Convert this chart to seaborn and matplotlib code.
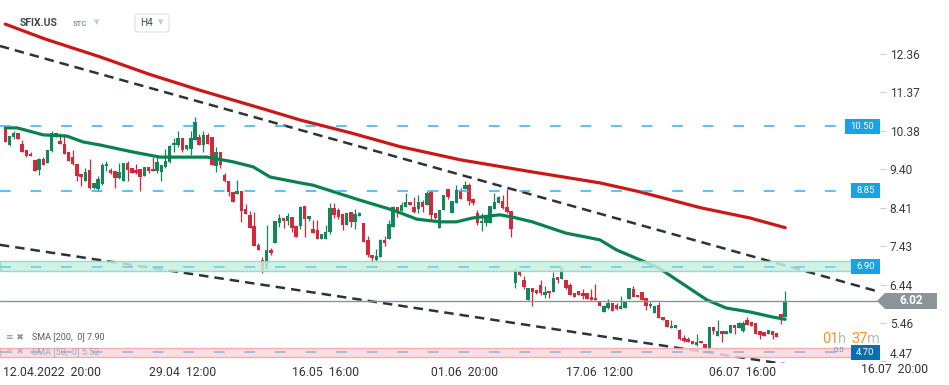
import numpy as np
import pandas as pd
import matplotlib
matplotlib.use("Agg")
import matplotlib.pyplot as plt
import seaborn as sns
from matplotlib.patches import Polygon, Rectangle, FancyBboxPatch
from matplotlib.transforms import blended_transform_factory

# ---------------- data ----------------
opens = [10.50, 10.03, 10.22, 10.33, 10.05, 9.88, 9.79, 9.64, 9.37, 9.66,
         9.56, 9.86, 10.33, 10.13, 10.05, 9.83, 9.71, 9.53, 9.28, 9.09,
         9.38, 8.92, 8.88, 9.03, 9.47, 9.38, 9.35, 9.18, 9.09, 9.56,
         9.43, 9.39, 9.41, 9.22, 9.45, 9.41, 9.35, 9.32, 9.45, 9.59,
         10.01, 10.01, 10.20, 9.93, 9.93, 10.16, 10.23, 10.03, 10.27, 10.22,
         9.47, 9.84, 9.26, 9.09, 8.81, 8.77, 8.83, 8.38, 8.23, 7.94,
         7.46, 7.08, 6.83, 7.33, 7.52, 8.03, 8.14, 8.08, 8.18, 7.94,
         7.95, 8.46, 8.12, 7.87, 7.84, 7.60, 7.60, 7.78, 8.40, 8.36,
         8.24, 7.97, 8.30, 8.05, 8.21, 8.01, 7.59, 7.20, 7.07, 7.16,
         7.59, 7.61, 7.93, 8.44, 8.34, 8.42, 8.57, 8.42, 8.37, 8.55,
         8.47, 8.81, 8.27, 7.90, 8.36, 8.88, 8.27, 8.53, 8.85, 8.89,
         8.99, 8.64, 8.27, 8.01, 8.03, 8.03, 8.37, 8.53, 8.59, 8.42,
         8.34, 6.49, 6.79, 6.56, 6.05, 6.35, 6.30, 6.43, 6.17, 6.28,
         6.26, 6.63, 6.58, 6.56, 6.43, 6.22, 6.28, 6.22, 6.22, 6.12,
         6.09, 6.02, 5.75, 5.84, 5.96, 5.92, 5.81, 5.83, 6.07, 6.33,
         6.18, 6.24, 6.09, 5.88, 5.71, 5.92, 5.60, 5.52, 5.32, 5.34,
         5.28, 5.07, 5.04, 5.00, 4.89, 5.00, 4.91, 4.78, 5.35, 5.13,
         5.26, 5.17, 5.19, 5.41, 5.34, 5.24, 5.52, 5.47, 5.45, 5.24,
         5.22, 5.17, 5.26, 5.21, 5.68, 5.60]
highs = [10.50, 10.26, 10.39, 10.33, 10.15, 9.88, 9.84, 9.64, 9.69, 9.70,
         9.88, 10.37, 10.33, 10.33, 10.30, 9.83, 9.90, 9.53, 9.28, 9.43,
         9.66, 9.05, 9.22, 9.55, 9.62, 9.42, 9.35, 9.56, 9.56, 9.60,
         9.43, 9.53, 9.41, 9.45, 9.45, 9.71, 9.76, 9.50, 9.93, 10.03,
         10.20, 10.39, 10.20, 10.01, 10.39, 10.73, 10.30, 10.39, 10.33, 10.22,
         9.98, 9.84, 9.30, 9.09, 8.81, 9.13, 8.83, 8.50, 8.32, 8.30,
         7.50, 7.14, 7.97, 7.39, 8.07, 8.24, 8.14, 8.28, 8.18, 7.94,
         8.46, 8.46, 8.20, 8.10, 8.10, 7.73, 7.97, 8.53, 8.53, 8.40,
         8.24, 8.27, 8.30, 8.37, 8.31, 8.01, 7.68, 7.20, 7.35, 7.62,
         7.68, 8.10, 8.46, 8.44, 8.57, 8.80, 8.57, 8.68, 8.74, 8.61,
         8.85, 8.85, 8.27, 8.36, 8.75, 8.88, 8.59, 8.99, 8.93, 9.10,
         9.04, 8.66, 8.36, 8.27, 8.18, 8.46, 8.80, 8.72, 8.74, 8.88,
         8.34, 6.86, 6.79, 6.66, 6.35, 6.36, 6.30, 6.56, 6.40, 6.28,
         6.76, 6.63, 6.91, 6.56, 6.48, 6.22, 6.28, 6.34, 6.22, 6.34,
         6.45, 6.02, 5.92, 6.07, 5.96, 5.98, 6.15, 6.03, 6.35, 6.41,
         6.18, 6.24, 6.09, 6.00, 5.90, 6.00, 5.60, 5.52, 5.53, 5.40,
         5.30, 5.16, 5.10, 5.00, 5.17, 5.00, 4.91, 5.35, 5.35, 5.52,
         5.26, 5.24, 5.41, 5.41, 5.49, 5.50, 5.60, 5.47, 5.45, 5.24,
         5.22, 5.28, 5.26, 5.21, 5.68, 6.28]
lows = [10.09, 9.99, 10.18, 10.18, 9.83, 9.71, 9.73, 9.35, 9.26, 9.50,
        9.56, 9.83, 10.23, 10.05, 9.80, 9.62, 9.50, 9.11, 8.98, 9.09,
        8.88, 8.88, 8.83, 9.00, 9.35, 9.27, 8.92, 9.14, 9.09, 9.09,
        9.30, 9.28, 8.83, 9.22, 9.30, 9.35, 9.31, 9.11, 9.43, 9.55,
        9.85, 9.98, 9.84, 9.88, 9.77, 10.16, 10.03, 9.84, 10.05, 9.50,
        9.34, 9.43, 9.07, 8.72, 8.55, 8.77, 8.04, 8.25, 7.89, 7.42,
        7.34, 6.74, 6.83, 7.20, 7.50, 7.93, 7.88, 7.96, 7.80, 7.67,
        7.86, 7.67, 8.08, 7.77, 7.60, 7.60, 7.60, 7.75, 8.15, 8.13,
        7.84, 7.97, 7.92, 7.86, 8.21, 7.54, 7.15, 7.02, 7.04, 7.16,
        7.42, 7.61, 7.91, 8.18, 8.34, 8.42, 8.49, 8.28, 8.27, 8.31,
        8.47, 8.10, 8.12, 7.90, 8.36, 8.63, 8.27, 8.53, 8.63, 8.89,
        8.48, 8.48, 7.97, 7.81, 7.95, 8.01, 8.37, 8.53, 8.38, 8.27,
        7.67, 6.36, 6.66, 6.33, 6.05, 5.88, 6.19, 6.18, 6.09, 6.10,
        6.24, 6.47, 6.58, 6.34, 6.17, 6.11, 6.17, 6.06, 6.07, 6.05,
        6.05, 5.90, 5.73, 5.82, 5.77, 5.79, 5.81, 5.83, 6.07, 6.13,
        6.11, 6.05, 5.79, 5.84, 5.71, 5.58, 5.52, 5.35, 5.32, 5.34,
        5.02, 4.96, 4.96, 4.92, 4.86, 4.94, 4.81, 4.74, 5.18, 5.13,
        4.96, 5.17, 5.19, 5.17, 5.34, 5.22, 5.41, 5.39, 5.17, 5.05,
        5.13, 5.17, 5.05, 5.09, 5.42, 5.60]
closes = [10.09, 10.24, 10.33, 10.18, 9.83, 9.75, 9.73, 9.35, 9.66, 9.50,
          9.88, 10.33, 10.27, 10.05, 9.80, 9.62, 9.53, 9.23, 9.21, 9.32,
          8.92, 9.05, 9.15, 9.50, 9.53, 9.30, 9.17, 9.33, 9.56, 9.39,
          9.30, 9.30, 9.20, 9.45, 9.35, 9.35, 9.59, 9.50, 9.62, 9.99,
          10.07, 10.20, 9.90, 10.01, 10.20, 10.61, 10.03, 10.27, 10.05, 9.50,
          9.84, 9.52, 9.09, 8.81, 8.55, 8.85, 8.34, 8.25, 7.89, 7.42,
          7.34, 6.82, 7.33, 7.24, 8.07, 8.16, 8.07, 8.20, 7.88, 7.67,
          8.44, 8.12, 8.20, 7.77, 7.60, 7.73, 7.80, 8.40, 8.22, 8.18,
          7.97, 8.27, 8.05, 8.24, 8.27, 7.54, 7.20, 7.12, 7.18, 7.59,
          7.52, 7.99, 8.44, 8.27, 8.48, 8.55, 8.49, 8.31, 8.55, 8.42,
          8.80, 8.22, 8.14, 8.36, 8.75, 8.68, 8.59, 8.87, 8.63, 8.99,
          8.59, 8.53, 8.03, 8.07, 8.18, 8.46, 8.55, 8.68, 8.40, 8.29,
          7.86, 6.81, 6.69, 6.39, 6.35, 6.26, 6.23, 6.22, 6.24, 6.22,
          6.60, 6.56, 6.86, 6.36, 6.17, 6.11, 6.17, 6.16, 6.07, 6.05,
          6.05, 5.90, 5.88, 5.96, 5.77, 5.81, 5.88, 6.03, 6.35, 6.13,
          6.11, 6.05, 5.88, 5.94, 5.90, 5.58, 5.52, 5.35, 5.38, 5.40,
          5.04, 5.00, 4.96, 4.92, 4.98, 4.94, 4.81, 5.35, 5.26, 5.26,
          5.17, 5.24, 5.41, 5.32, 5.45, 5.45, 5.41, 5.39, 5.17, 5.15,
          5.13, 5.28, 5.15, 5.09, 5.60, 6.02]

sma200_idx = [0, 9.4, 22.5, 34, 46, 62, 70, 82, 93.6, 108, 125, 141, 150.5, 165, 176.6, 185]
sma200_val = [13.12, 12.74, 12.28, 11.84, 11.43, 10.92, 10.66, 10.33, 9.98, 9.64,
              9.33, 9.05, 8.82, 8.41, 8.15, 7.90]
sma50_idx = [0, 2.8, 9, 14.6, 18.4, 22.5, 30.3, 36.7, 44.5, 47.8, 54, 58.8, 62.8,
             69.9, 73, 84, 92, 97.6, 103, 107, 110.9, 117.3, 120.4, 125, 133, 141,
             145, 155, 166.4, 171, 176.6, 182, 185]
sma50_val = [10.46, 10.46, 10.28, 10.25, 10.10, 10.02, 9.84, 9.71, 9.71, 9.71, 9.59,
             9.46, 9.20, 9.05, 8.99, 8.61, 8.35, 8.12, 8.05, 8.05, 8.15, 8.23, 8.17,
             8.05, 7.76, 7.59, 7.33, 6.87, 6.05, 5.84, 5.74, 5.61, 5.55]

trend_idx = [-1.3, 207.5]
trend_upper = [12.56, 6.25]
trend_lower = [7.46, 4.03]

levels = [10.50, 8.85, 6.90, 4.70]
level_labels = ["10.50", "8.85", "6.90", "4.70"]
last_price = 6.02
yticks = [12.36, 11.37, 10.38, 9.40, 8.41, 7.43, 6.44, 5.46, 4.47]
xtick_pos = [11, 42, 76, 109, 141, 175]
xtick_labels = ["12.04.2022  20:00", "29.04  12:00", "16.05  16:00",
                "01.06  20:00", "17.06  12:00", "06.07  16:00"]
last_xtick_pos = 211
last_xtick_label = "16.07  20:00"

# ---------------- styling ----------------
sns.set_theme(style="white")
plt.rcParams['font.family'] = ['Roboto', 'DejaVu Sans']

W, H = 949, 385
fig = plt.figure(figsize=(W / 100, H / 100), dpi=100)
ax_left, ax_right, ax_top, ax_bottom = 0, 880, 0, 363
ax = fig.add_axes([ax_left / W, 1 - ax_bottom / H, (ax_right - ax_left) / W, (ax_bottom - ax_top) / H])
ax.set_xlim(-1.26, 207.5)
ax.set_ylim(4.43, 13.739)
for s in ax.spines.values():
    s.set_visible(False)

GREEN = '#12875b'
RED = '#d6283b'

n = len(closes)
idx = np.arange(n)
df = pd.DataFrame({'i': idx, 'o': opens, 'h': highs, 'l': lows, 'c': closes})
df['up'] = df['c'] >= df['o']
colors = np.where(df['up'], GREEN, RED)
ax.vlines(df['i'], df['l'], df['h'], colors=colors, lw=0.9, zorder=2)
body_bottom = np.minimum(df['o'], df['c'])
body_h = np.maximum(np.abs(df['c'] - df['o']), 0.035)
ax.bar(df['i'], body_h, bottom=body_bottom, width=0.82, color=colors, linewidth=0, zorder=2.5)

# moving averages
d200 = pd.DataFrame({'i': sma200_idx, 'v': sma200_val})
d50 = pd.DataFrame({'i': sma50_idx, 'v': sma50_val})
sns.lineplot(data=d200, x='i', y='v', ax=ax, color='#cc1717', linewidth=2.3,
             estimator=None, sort=False, zorder=3)
sns.lineplot(data=d50, x='i', y='v', ax=ax, color='#0b8152', linewidth=2.3,
             estimator=None, sort=False, zorder=3)

# trend lines
for vals in (trend_upper, trend_lower):
    ax.plot(trend_idx, vals, color='#2c333b', lw=1.8, dashes=(3.8, 2.4), zorder=3.2)

trans = blended_transform_factory(ax.transAxes, ax.transData)

# zones
ax.axhspan(6.79, 7.04, xmin=0, xmax=851 / 880, facecolor='#c6f0e0', edgecolor='#8ad9bd',
           lw=1, alpha=0.85, zorder=4)
ax.axhspan(4.59, 4.82, xmin=0, xmax=851 / 880, facecolor='#fbd9dc', edgecolor='#f2a4ab',
           lw=1, alpha=0.85, zorder=4)

# horizontal levels
lvl_col = {10.50: '#2fb0ec', 8.85: '#2fb0ec', 6.90: '#6fc6ea', 4.70: '#8fb2d6'}
for lv in levels:
    ax.plot([-1.26, 207.5], [lv, lv], color=lvl_col[lv], lw=1.1, dashes=(7, 13), zorder=4.5)

# last price line
ax.axhline(last_price, xmin=0, xmax=877 / 880, color='#8a9399', lw=1.0, zorder=4.2)

# level label boxes
box_col = {10.50: '#19a2e6', 8.85: '#19a2e6', 6.90: '#19a2e6', 4.70: '#0b6db2'}
for lv, lab in zip(levels, level_labels):
    x0 = (845 if lab == "10.50" else 851) / 880
    ax.add_patch(Rectangle((x0, lv - 0.2), 1 - x0, 0.4, transform=trans,
                           facecolor=box_col[lv], edgecolor='none', zorder=6, clip_on=False))
    ax.text((x0 + 1) / 2, lv, lab, transform=trans, ha='center', va='center',
            color='white', fontsize=6.8, zorder=7, clip_on=False)

# last-price arrow label
pts = [(877 / 880, last_price), (885 / 880, last_price + 0.205), (937 / 880, last_price + 0.205),
       (937 / 880, last_price - 0.205), (885 / 880, last_price - 0.205)]
ax.add_patch(Polygon(pts, closed=True, transform=trans, facecolor='#8b9599',
                     edgecolor='none', zorder=6, clip_on=False))
ax.text(911 / 880, last_price, f"{last_price:.2f}", transform=trans, ha='center', va='center',
        color='white', fontsize=8.5, fontweight='bold', zorder=7, clip_on=False)

# y axis on right
ax.yaxis.tick_right()
ax.set_yticks(yticks, labels=[f"{v:.2f}" for v in yticks])
ax.tick_params(axis='y', which='major', length=4, width=0.8, color='#d0d0d0', pad=3,
               labelsize=8.6, labelcolor='#3a3a3a', right=True, left=False)
for t in ax.yaxis.get_major_ticks():
    if abs(t.get_loc() - 4.47) < 1e-6:
        t.label2.set_va('bottom')

# x axis
ax.set_xticks(xtick_pos, labels=xtick_labels)
ax.tick_params(axis='x', which='major', length=0, pad=2, labelsize=8.8, labelcolor='#333333')
transx = blended_transform_factory(ax.transData, ax.transAxes)
ax.text(last_xtick_pos, 0, last_xtick_label, transform=transx, ha='center', va='top',
        fontsize=8.8, color='#333333', clip_on=False)
ax.set_xlabel('')
ax.set_ylabel('')


def fx(x):
    return x / W


def fy(y):
    return 1 - y / H


# header
fig.text(fx(20), fy(23), "SFIX.US", fontsize=7.5, fontweight='bold', color='#3d4852', va='center')
fig.text(fx(73), fy(23.5), "STC", fontsize=5.5, fontweight='bold', color='#8796a5', va='center')
fig.text(fx(94), fy(22), "▼", fontsize=5, color='#c4c9cd', va='center', family=['DejaVu Sans'])
fig.patches.append(FancyBboxPatch((fx(135), fy(32)), fx(34), 18 / H,
                                  boxstyle="round,pad=0,rounding_size=0.004",
                                  transform=fig.transFigure, facecolor='white',
                                  edgecolor='#dcdfe2', lw=0.8))
fig.text(fx(140), fy(23.5), "H4", fontsize=7.2, color='#444b52', va='center')
fig.text(fx(158), fy(22.5), "▼", fontsize=5, color='#c4c9cd', va='center', family=['DejaVu Sans'])

# SMA legend
fig.text(fx(6), fy(337), "≡ ✖", fontsize=6.5, color='#8a8f94', va='center', family=['DejaVu Sans'])
fig.text(fx(32), fy(337), "SMA [200,  0] 7.90", fontsize=6.5, color='#555b61', va='center')
fig.text(fx(6), fy(352), "≡ ✖", fontsize=6.5, color='#b5b9bd', va='center', family=['DejaVu Sans'])
fig.text(fx(32), fy(352), "SMA [50,  0] 5.52", fontsize=6.5, color='#a4a8ad', va='center')

# countdown timer
fig.text(fx(822), fy(339), "01", fontsize=10.5, color='#f7941d', va='center')
fig.text(fx(838), fy(339), "h", fontsize=10.5, color='#b9bcbf', va='center')
fig.text(fx(851), fy(339), "37", fontsize=10.5, color='#f7941d', va='center')
fig.text(fx(867), fy(339), "m", fontsize=10.5, color='#b9bcbf', va='center')
fig.text(fx(834), fy(350), "0.0", fontsize=5.6, color='#3aa3e0', va='center')

fig.savefig("out.png", dpi=100)
